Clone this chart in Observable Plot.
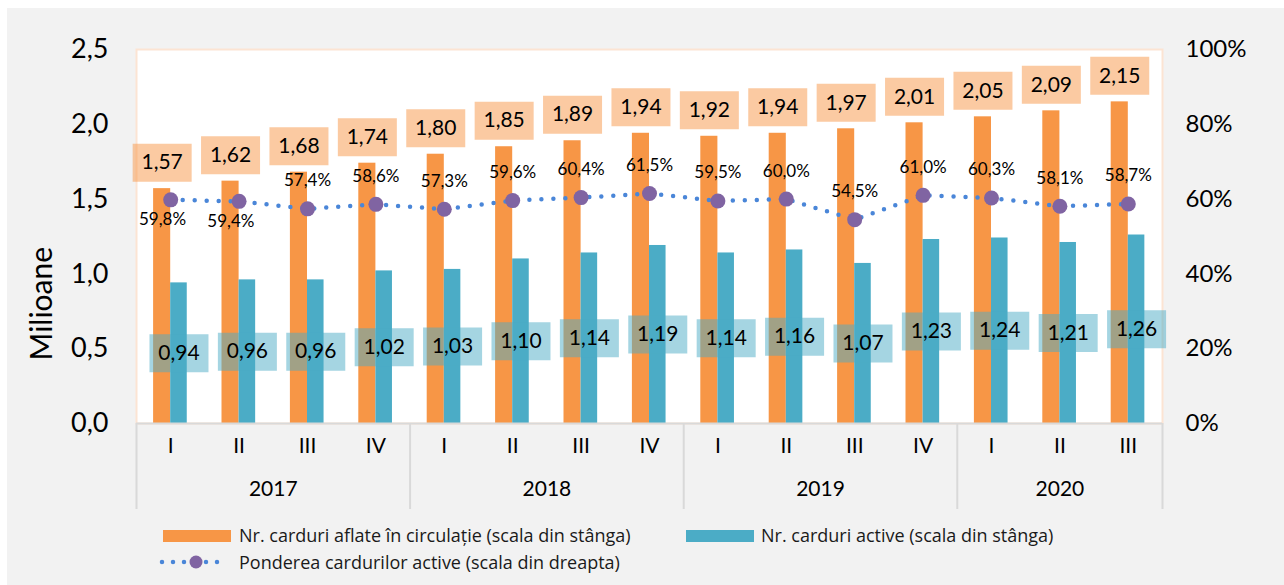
<!DOCTYPE html>
<html>
<head>
<meta charset="utf-8">
<script src="https://cdn.jsdelivr.net/npm/d3@7"></script>
<script src="https://cdn.jsdelivr.net/npm/@observablehq/plot@0.6"></script>
<style>
  html, body { margin: 0; padding: 0; background: #ffffff; }
  body { width: 1284px; height: 585px; position: relative; overflow: hidden; font-family: Lato, "Open Sans", sans-serif; }
  #panel { position: absolute; left: 7px; top: 8px; right: 0; bottom: 0; background: #f2f2f2; }
  #chart { position: absolute; left: 0; top: 0; }
  .leg { position: absolute; font-family: "Open Sans", Lato, sans-serif; font-size: 18px; color: #1a1a1a; white-space: nowrap; line-height: 20px; }
  .sw { position: absolute; }
</style>
</head>
<body>
<div id="panel"></div>
<div id="chart"></div>
<svg class="sw" style="left:163px;top:530px" width="68" height="12"><rect width="68" height="12" fill="#f79646"/></svg>
<div class="leg" style="left:239px;top:525px">Nr. carduri aflate în circulație (scala din stânga)</div>
<svg class="sw" style="left:686px;top:530px" width="68" height="12"><rect width="68" height="12" fill="#4bacc6"/></svg>
<div class="leg" style="left:761px;top:525px">Nr. carduri active (scala din stânga)</div>
<svg class="sw" style="left:158px;top:554px" width="74" height="16"><line x1="4" y1="8" x2="70" y2="8" stroke="#4a86d8" stroke-width="4.5" stroke-linecap="round" stroke-dasharray="0,11"/><circle cx="38" cy="8" r="6.5" fill="#8064a2"/></svg>
<div class="leg" style="left:239px;top:552px">Ponderea cardurilor active (scala din dreapta)</div>
<script>
const quarters = ["I","II","III","IV","I","II","III","IV","I","II","III","IV","I","II","III"];
const years = ["2017","2017","2017","2017","2018","2018","2018","2018","2019","2019","2019","2019","2020","2020","2020"];
const cardsInCirculation = [1.57,1.62,1.68,1.74,1.80,1.85,1.89,1.94,1.92,1.94,1.97,2.01,2.05,2.09,2.15];
const cardsActive = [0.94,0.96,0.96,1.02,1.03,1.10,1.14,1.19,1.14,1.16,1.07,1.23,1.24,1.21,1.26];
const activeShare = [59.8,59.4,57.4,58.6,57.3,59.6,60.4,61.5,59.5,60.0,54.5,61.0,60.3,58.1,58.7];
const leftTicks = [0, 0.5, 1.0, 1.5, 2.0, 2.5];
const rightTicks = [0, 20, 40, 60, 80, 100];

const yMax = 2.5;
const pctToY = p => p / 100 * yMax;
const comma = (v, n) => v.toFixed(n).replace(".", ",");

const data = quarters.map((q, i) => ({
  i, q, year: years[i],
  total: cardsInCirculation[i],
  active: cardsActive[i],
  share: activeShare[i]
}));

// labels placed below the point for the first two quarters
const belowIdx = new Set([0, 1]);

const yearGroups = d3.groups(data, d => d.year).map(([year, rows]) => ({
  year,
  mid: d3.mean(rows, d => d.i),
  start: d3.min(rows, d => d.i) - 0.5
}));
const separators = [...yearGroups.map(g => g.start), data.length - 0.5];

const box = {
  draw(context) { context.rect(-29.5, -19, 59, 38); }
};

const plot = Plot.plot({
  width: 1284,
  height: 520,
  marginLeft: 136,
  marginRight: 122,
  marginTop: 49,
  marginBottom: 97,
  style: { background: "transparent", fontFamily: "Lato, 'Open Sans', sans-serif", color: "#000", overflow: "visible" },
  x: { type: "linear", domain: [-0.5, data.length - 0.5], axis: null },
  y: { domain: [0, yMax], axis: null },
  marks: [
    Plot.frame({ fill: "white", stroke: "#fce4d3", strokeWidth: 2 }),
    Plot.ruleX(separators, { x: d => d, stroke: "#d9d9d9", strokeWidth: 2, insetTop: 374, insetBottom: -86 }),
    Plot.rectY(data, { x1: d => d.i - 0.25, x2: d => d.i, y: "total", fill: "#f79646" }),
    Plot.rectY(data, { x1: d => d.i, x2: d => d.i + 0.242, y: "active", fill: "#4bacc6" }),
    Plot.ruleY([0], { stroke: "#d9d9d9", strokeWidth: 2 }),
    Plot.axisY(leftTicks, { tickSize: 0, tickPadding: 28, fontSize: 27, tickFormat: d => comma(d, 1), label: null }),
    Plot.text(rightTicks, { y: d => pctToY(d), text: d => d + "%", frameAnchor: "right", textAnchor: "start", dx: 23, fontSize: 24 }),
    Plot.text(["Milioane"], { frameAnchor: "left", rotate: -90, dx: -94, dy: 124, fontSize: 30 }),
    Plot.text(data, { x: "i", text: "q", frameAnchor: "bottom", dy: 29, fontSize: 21 }),
    Plot.text(yearGroups, { x: "mid", text: "year", frameAnchor: "bottom", dy: 72, fontSize: 21 }),
    // value label boxes
    Plot.dot(data, { x: d => d.i - 0.125, y: "total", dy: -26, symbol: box, fill: "#f79646", fillOpacity: 0.5, stroke: null }),
    Plot.text(data, { x: d => d.i - 0.125, y: "total", dy: -26, text: d => comma(d.total, 2), fontSize: 21 }),
    Plot.dot(data, { x: d => d.i + 0.121, y: d => d.active / 2, symbol: box, fill: "#4bacc6", fillOpacity: 0.5, stroke: null }),
    Plot.text(data, { x: d => d.i + 0.121, y: d => d.active / 2, text: d => comma(d.active, 2), fontSize: 21 }),
    // share line
    Plot.line(data, { x: "i", y: d => pctToY(d.share), stroke: "#4a86d8", strokeWidth: 4.5, strokeDasharray: "0,12", strokeLinecap: "round" }),
    Plot.dot(data, { x: "i", y: d => pctToY(d.share), r: 7.5, fill: "#8064a2", stroke: null }),
    Plot.text(data, { x: d => d.i - 0.12, y: d => pctToY(d.share), text: d => comma(d.share, 1) + "%", fontSize: 17,
      filter: d => belowIdx.has(d.i), dy: 20 }),
    Plot.text(data, { x: "i", y: d => pctToY(d.share), text: d => comma(d.share, 1) + "%", fontSize: 17,
      filter: d => !belowIdx.has(d.i), dy: -28 })
  ]
});
document.getElementById("chart").appendChild(plot);
</script>
</body>
</html>
